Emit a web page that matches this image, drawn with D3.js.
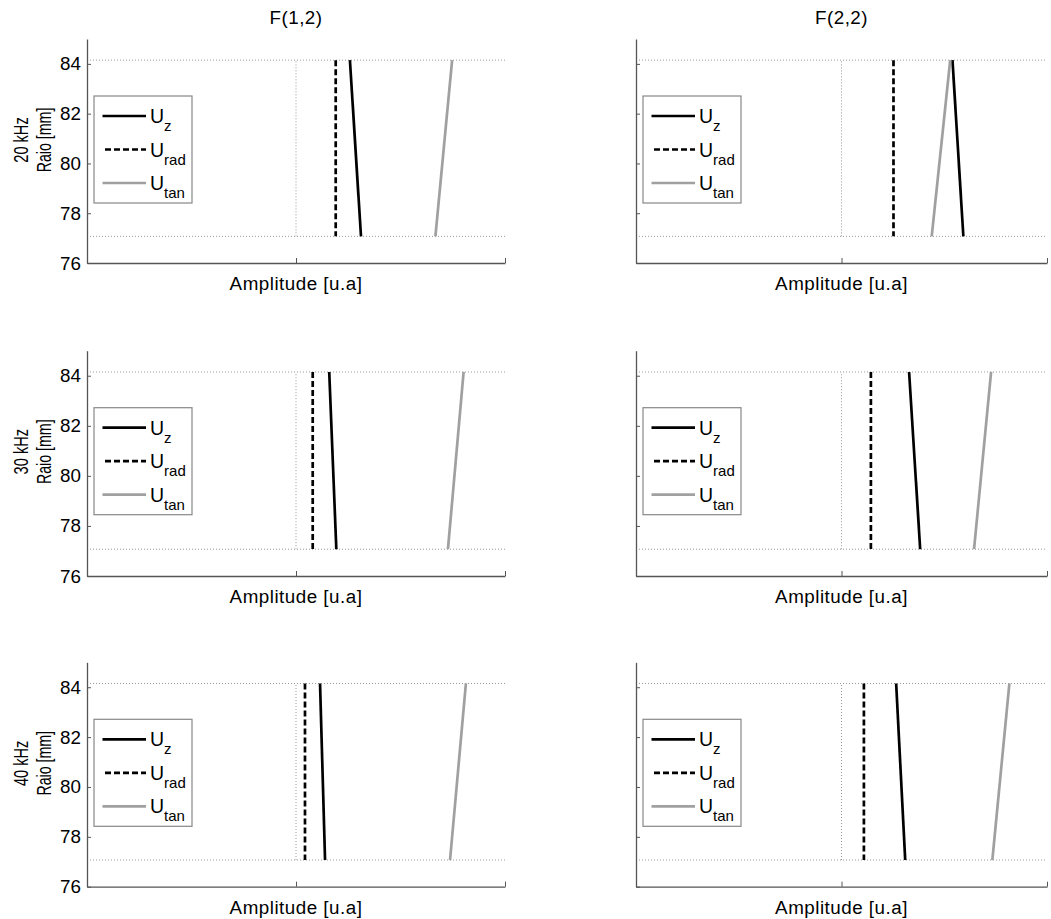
<!DOCTYPE html>
<html><head><meta charset="utf-8">
<script src="https://cdn.jsdelivr.net/npm/d3@7"></script>
<style>
body{margin:0;background:#fff;}
text{font-family:"Liberation Sans",Arial,Helvetica,sans-serif;fill:#000;}
</style></head>
<body>
<script>
// ---- data ----
const columns = ["F(1,2)", "F(2,2)"];
const rowsLabels = ["20 kHz", "30 kHz", "40 kHz"];
const yTicks = [76, 78, 80, 82, 84];
const yDomain = [76, 85];
const xDomain = [-1, 1];
const xTicks = [-1, 0, 1];
const radius = [84.15, 77.07];           // radius at the two ends of each line
const radiusBounds = [77.07, 84.15];     // dotted reference lines
// amplitudes [at top radius, at bottom radius], index [row][col]
const uz = [
  [[0.258, 0.311], [0.540, 0.593]],
  [[0.159, 0.193], [0.329, 0.383]],
  [[0.115, 0.139], [0.266, 0.310]]
];
const urad = [
  [[0.190, 0.190], [0.253, 0.253]],
  [[0.080, 0.080], [0.143, 0.143]],
  [[0.043, 0.043], [0.109, 0.109]]
];
const utan = [
  [[0.747, 0.667], [0.529, 0.439]],
  [[0.802, 0.727], [0.728, 0.645]],
  [[0.813, 0.737], [0.817, 0.734]]
];
const seriesNames = ["z", "rad", "tan"];

// ---- layout ----
const W = 1051, H = 919;
const colX = [[87, 505], [636, 1047]];
const rowY = [[263, 39], [576, 350.7], [886.7, 662.3]];
const styles = [
  {stroke: "#000", dash: null, width: 2.7},
  {stroke: "#000", dash: "6,3", width: 2.7},
  {stroke: "#a0a0a0", dash: null, width: 2.7}
];

const svg = d3.select("body").append("svg").attr("width", W).attr("height", H);
const AX = "#555";
const FS = "18.8px";

rowsLabels.forEach((rl, r) => {
  columns.forEach((cl, c) => {
    const x = d3.scaleLinear().domain(xDomain).range(colX[c]);
    const y = d3.scaleLinear().domain(yDomain).range(rowY[r]);
    const g = svg.append("g");

    // dotted reference lines
    radiusBounds.forEach(b => {
      g.append("line").attr("x1", x(xDomain[0])).attr("x2", x(xDomain[1]))
        .attr("y1", y(b)).attr("y2", y(b))
        .attr("stroke", "#999").attr("stroke-width", 1).attr("stroke-dasharray", "1,2");
    });
    g.append("line").attr("x1", x(0)).attr("x2", x(0))
      .attr("y1", y(radiusBounds[0])).attr("y2", y(radiusBounds[1]))
      .attr("stroke", "#999").attr("stroke-width", 1).attr("stroke-dasharray", "1,2");

    // axes
    const ya = d3.axisLeft(y).tickValues(yTicks).tickSize(-4).tickSizeOuter(0).tickPadding(6);
    if (c === 1) ya.tickFormat("");
    const yg = g.append("g").attr("transform", `translate(${colX[c][0]},0)`).call(ya);
    yg.selectAll("text").style("font-size", FS).attr("fill", "#000");
    const xa = d3.axisBottom(x).tickValues(xTicks).tickSize(-5).tickSizeOuter(0).tickFormat("");
    const xg = g.append("g").attr("transform", `translate(0,${rowY[r][0]})`).call(xa);
    [yg, xg].forEach(a => {
      a.select(".domain").attr("stroke", AX).attr("stroke-width", 1.3);
      a.selectAll(".tick line").attr("stroke", AX);
    });

    // series
    const line = d3.line().x(d => x(d[0])).y(d => y(d[1]));
    [uz, urad, utan].forEach((s, i) => {
      const pts = s[r][c].map((v, k) => [v, radius[k]]);
      g.append("path").attr("d", line(pts)).attr("fill", "none")
        .attr("stroke", styles[i].stroke).attr("stroke-width", styles[i].width)
        .attr("stroke-dasharray", styles[i].dash);
    });

    // x label
    g.append("text").attr("x", x(0)).attr("y", rowY[r][0] + 27)
      .attr("text-anchor", "middle").style("font-size", FS)
      .style("letter-spacing", "0.5px").text("Amplitude [u.a]");

    // legend
    const lx = colX[c][0] + 7, ly = rowY[r][1] + 57;
    const lg = g.append("g").attr("transform", `translate(${lx},${ly})`);
    lg.append("rect").attr("width", 98).attr("height", 107)
      .attr("fill", "#fff").attr("stroke", "#888").attr("stroke-width", 1.2);
    seriesNames.forEach((n, i) => {
      const yy = 20 + i * 33.5;
      lg.append("line").attr("x1", i === 1 ? 11 : 8.5).attr("x2", 52).attr("y1", yy).attr("y2", yy)
        .attr("stroke", styles[i].stroke).attr("stroke-width", styles[i].width)
        .attr("stroke-dasharray", styles[i].dash);
      const t = lg.append("text").attr("x", 56).attr("y", yy + 7).style("font-size", "19.5px");
      t.append("tspan").text("U");
      t.append("tspan").attr("dy", 8).style("font-size", "15px").text(n);
    });

    // titles
    if (r === 0) {
      g.append("text").attr("x", x(0)).attr("y", 24).attr("text-anchor", "middle")
        .style("font-size", FS).style("letter-spacing", "0.5px").text(cl);
    }
    if (c === 0) {
      const cy = rowY[r][1] + 101;
      g.append("text").attr("transform", `translate(28,${cy}) rotate(-90) scale(0.73,1)`)
        .attr("text-anchor", "middle").style("font-size", "20px").text(rl);
      g.append("text").attr("transform", `translate(51,${cy}) rotate(-90) scale(0.71,1)`)
        .attr("text-anchor", "middle").style("font-size", "20px").text("Raio [mm]");
    }
  });
});
</script>
</body></html>
